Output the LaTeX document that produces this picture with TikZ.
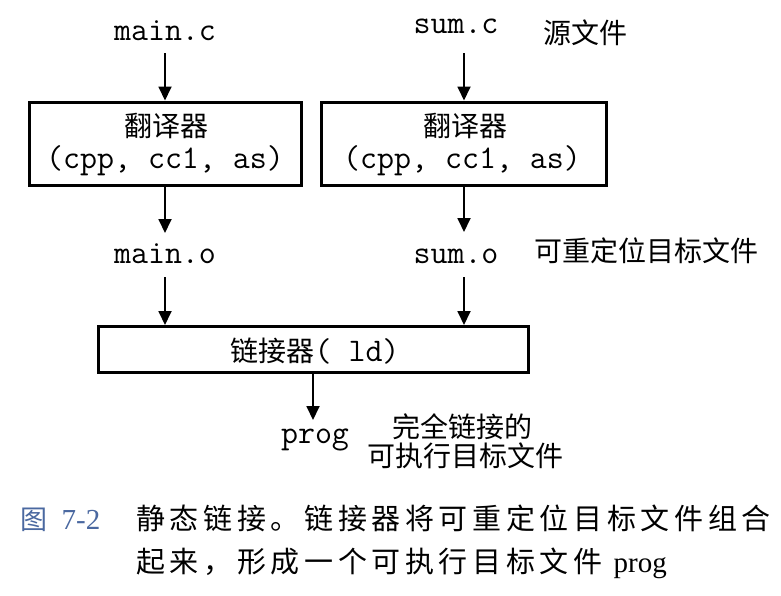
\documentclass[tikz,border=0pt]{standalone}
\usepackage{fontspec}
\setmainfont{Liberation Serif}
\newfontfamily\cjk{Noto Sans CJK SC}
\newfontfamily\cjkcap[LetterSpace=16]{Noto Sans CJK SC}
\usetikzlibrary{arrows.meta}
\definecolor{capblue}{RGB}{74,104,160}
\begin{document}
\begin{tikzpicture}[x=1pt,y=-1pt,
  mono/.style={font=\fontsize{33}{35}\selectfont\ttfamily, inner sep=0pt, anchor=base},
  cjkt/.style={font=\fontsize{28}{30}\selectfont\cjk, inner sep=0pt, anchor=base},
  captxt/.style={font=\fontsize{29}{31}\selectfont\cjkcap, inner sep=0pt, anchor=base west},
  capnum/.style={font=\fontsize{29}{31}\selectfont, text=capblue, inner sep=0pt, anchor=base},
  tool/.style={draw, line width=3pt, inner sep=0pt},
  arr/.style={line width=1.8pt, -{Triangle[length=14pt,width=13pt]}}]
\useasboundingbox (0,0) rectangle (781,595);
% boxes
\node[tool, minimum width=272pt, minimum height=83pt] (box1) at (165,143.5) {};
\node[tool, minimum width=285pt, minimum height=83pt] (box2) at (464,143.5) {};
\node[tool, minimum width=430pt, minimum height=46pt] (linker) at (313,349.5) {};
% texts
\node[mono] (mainc) at (165,40) {main.c};
\node[mono] (sumc) at (456,33) {sum.c};
\node[cjkt] (src) at (585,43) {源文件};
\node[cjkt] (t1a) at (166,136) {翻译器};
\node[mono] (t1b) at (165,168) {(cpp, cc1, as)};
\node[cjkt] (t2a) at (465,136) {翻译器};
\node[mono] (t2b) at (462,168) {(cpp, cc1, as)};
\node[mono] (maino) at (165,263) {main.o};
\node[mono] (sumo) at (456,263) {sum.o};
\node[cjkt] (reloc) at (646,261) {可重定位目标文件};
\node[cjkt] (lt) at (315,361) {链接器{\fontsize{33}{35}\selectfont\ttfamily( ld)}};
\node[mono] (prog) at (315,443) {prog};
\node[cjkt] (full1) at (462,437) {完全链接的};
\node[cjkt] (full2) at (465,466) {可执行目标文件};
% caption
\node[capnum, font=\fontsize{27}{31}\selectfont\cjk] (figno) at (34,529) {图};
\node[capnum] (fignum) at (81,529) {7-2};
\node[captxt] (cap1) at (136,529) {静态链接。链接器将可重定位目标文件组合};
\node[captxt] (cap2) at (136,572) {起来，形成一个可执行目标文件 {\rmfamily prog}};
% arrows
\draw[arr, shorten <=13pt] (mainc.south) -- (box1.north);
\draw[arr, shorten <=20pt] (box2.north |- sumc.south) -- (box2.north);
\draw[arr, shorten >=30pt] (box1.south) -- (box1.south |- maino.base);
\draw[arr, shorten >=31pt] (box2.south) -- (box2.south |- sumo.base);
\draw[arr, shorten <=14pt] (box1.south |- maino.base) -- (box1.south |- linker.north);
\draw[arr, shorten <=14pt] (box2.south |- sumo.base) -- (box2.south |- linker.north);
\draw[arr, shorten >=23pt] (linker.south) -- (linker.south |- prog.base);
\end{tikzpicture}
\end{document}
